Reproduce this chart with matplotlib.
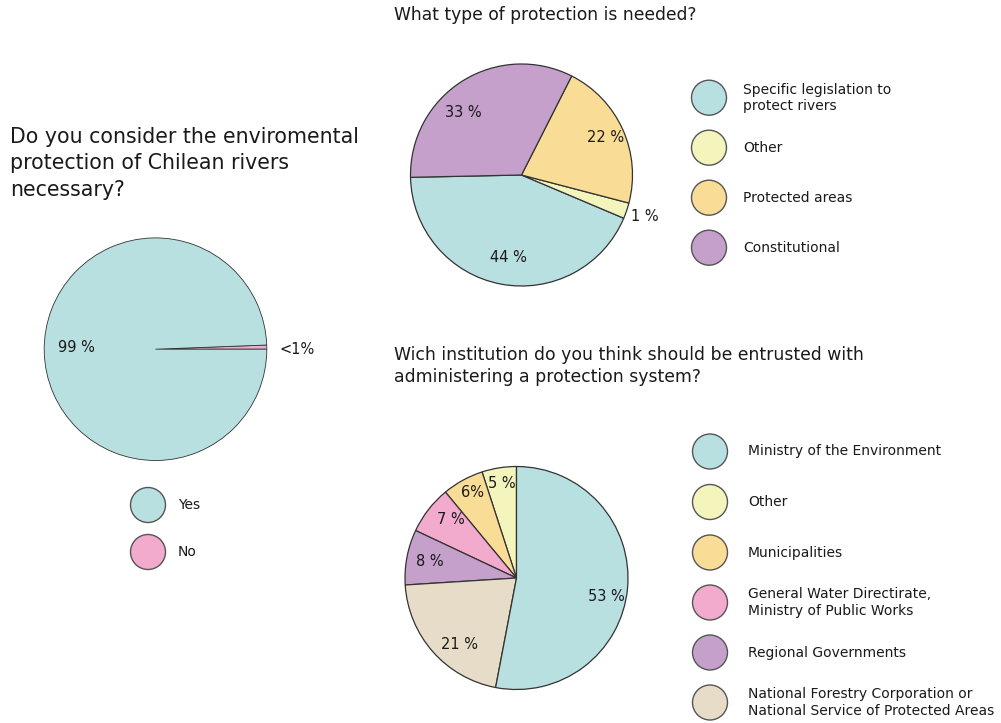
import matplotlib.pyplot as plt
import numpy as np

# survey question 1
q1_title = "Do you consider the enviromental\nprotection of Chilean rivers\nnecessary?"
q1_labels = ["Yes", "No"]
q1_values = [99.4, 0.6]
q1_pct = ["99 %", "<1%"]
q1_colors = ["#b9e0e1", "#f2aacd"]

# survey question 2
q2_title = "What type of protection is needed?"
q2_labels = ["Specific legislation to\nprotect rivers", "Other", "Protected areas", "Constitutional"]
q2_values = [43.3, 2.3, 21.6, 32.8]
q2_pct = ["44 %", "1 %", "22 %", "33 %"]
q2_colors = ["#b9e0e1", "#f4f4bd", "#f9dc96", "#c4a0cb"]

# survey question 3
q3_title = "Wich institution do you think should be entrusted with\nadministering a protection system?"
q3_labels = ["Ministry of the Environment", "Other", "Municipalities",
             "General Water Directirate,\nMinistry of Public Works", "Regional Governments",
             "National Forestry Corporation or\nNational Service of Protected Areas"]
q3_values = [53, 5, 6, 7, 8, 21]
q3_pct = ["53 %", "5 %", "6%", "7 %", "8 %", "21 %"]
q3_colors = ["#b9e0e1", "#f4f4bd", "#f9dc96", "#f2aacd", "#c4a0cb", "#e6dcc7"]

H = 723
TXT = "#1a1a1a"


def Y(y):
    # image pixel row -> data y
    return H - y


def draw_pie(ax, values, colors, pct, order, center, r, start, dist, shift, lw=0.9):
    cx, cy = center[0], Y(center[1])
    wedges, _ = ax.pie([values[i] for i in order], colors=[colors[i] for i in order],
                       startangle=start, center=(cx, cy), radius=r, frame=True,
                       wedgeprops=dict(edgecolor="#333333", linewidth=lw))
    for w, i in zip(wedges, order):
        a = np.deg2rad((w.theta1 + w.theta2) / 2 + shift[i])
        ax.text(cx + dist[i] * r * np.cos(a), cy + dist[i] * r * np.sin(a), pct[i],
                ha="center", va="center", fontsize=10.5, color=TXT)


def draw_legend(ax, labels, colors, x, ys, tx):
    for lab, c, y in zip(labels, colors, ys):
        ax.add_patch(plt.Circle((x, Y(y)), 17.5, facecolor=c, edgecolor="#555555", lw=1))
        ax.text(tx, Y(y), lab, ha="left", va="center", fontsize=10, color=TXT, linespacing=1.2)


fig = plt.figure(figsize=(10.01, 7.23), dpi=100)
ax = fig.add_axes([0, 0, 1, 1])

draw_pie(ax, q1_values, q1_colors, q1_pct, [1, 0], (155.5, 349.2), 111.3, 0,
         [0.71, 1.27], [-2, -1], lw=0.6)
draw_pie(ax, q2_values, q2_colors, q2_pct, [0, 1, 2, 3], (521.5, 175), 111, 181.2,
         [0.75, 1.17, 0.83, 0.77], [2, 0, 0, 11])
draw_pie(ax, q3_values, q3_colors, q3_pct, [1, 2, 3, 4, 5, 0], (516.5, 578), 111.5, 90,
         [0.82, 0.86, 0.86, 0.79, 0.79, 0.79], [-6, 0, -1.5, -4, 0, 8])

draw_legend(ax, q1_labels, q1_colors, 148, [505, 552], 178)
draw_legend(ax, q2_labels, q2_colors, 709, [97.7, 147.7, 197.7, 247.7], 743)
draw_legend(ax, q3_labels, q3_colors, 710, [451.5, 502, 552.5, 602.5, 652.5, 702.5], 748)

ax.text(10, Y(127), q1_title, ha="left", va="top", fontsize=14.8, color=TXT, linespacing=1.4)
ax.text(394, Y(6), q2_title, ha="left", va="top", fontsize=12.3, color=TXT)
ax.text(394, Y(346), q3_title, ha="left", va="top", fontsize=12.4, color=TXT, linespacing=1.3)

ax.set_xlim(0, 1001)
ax.set_ylim(0, H)
ax.set_aspect("equal")
ax.axis("off")

fig.savefig("out.png", dpi=100, facecolor="white")
